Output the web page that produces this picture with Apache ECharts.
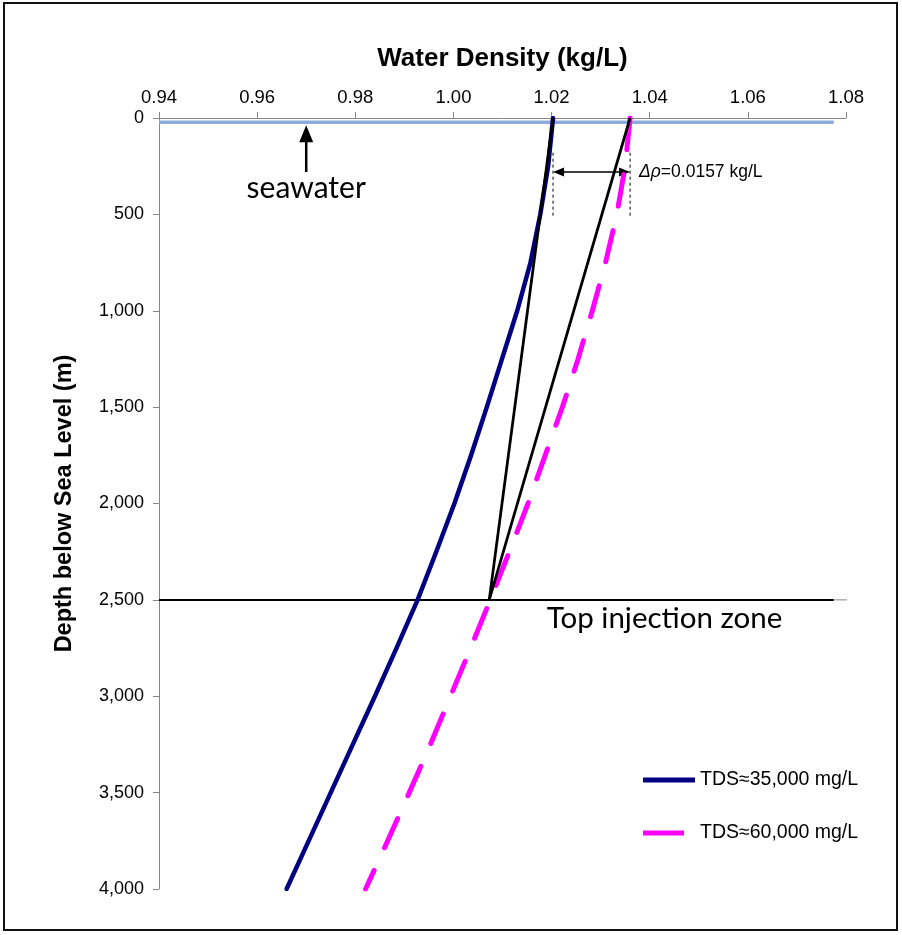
<!DOCTYPE html>
<html>
<head>
<meta charset="utf-8">
<script src="https://cdn.jsdelivr.net/npm/echarts@6/dist/echarts.min.js"></script>
<style>
  html, body { margin: 0; padding: 0; background: #ffffff; }
  #chart { width: 902px; height: 935px; }
</style>
</head>
<body>
<div id="chart"></div>
<script>
// Depth (m below sea level) at which each density value is given
const depthM = [0, 250, 500, 750, 1000, 1250, 1500, 1750, 2000, 2250, 2500, 2750, 3000, 3250, 3500, 3750, 4000];
// Water density (kg/L) for the two salinities
const densityTds35 = [1.0203, 1.0193, 1.0177, 1.0157, 1.0130, 1.0099, 1.0068, 1.0036, 1.0002, 0.9965, 0.9927, 0.9884, 0.9840, 0.9795, 0.9750, 0.9705, 0.9660];
const densityTds60 = [1.0360, 1.0350, 1.0333, 1.0310, 1.0283, 1.0254, 1.0222, 1.0187, 1.0152, 1.0114, 1.0075, 1.0035, 0.9994, 0.9953, 0.9910, 0.9866, 0.9821];
const seriesNames = ['TDS\u224835,000 mg/L', 'TDS\u224860,000 mg/L'];

// Sea surface line and top of the injection zone
const seawaterRange = [0.94, 1.0775];
const seawaterDepth = 22;
const injectionTopDepth = 2500;
const injectionRange = [0.94, 1.0775];
const injectionTickEnd = 1.081;

// Straight averaged-density lines from the surface down to the injection zone
const surfaceDensity35 = 1.0203;
const deltaRho = 0.0157;
const surfaceDensity60 = 1.0360;
const convergeDensity = 1.0073;

// Annotation anchors
const deltaArrowDepth = 280;
const refLineDepths = [180, 510];
const seawaterArrowDensity = 0.97;
const injectionLabelDensity = 1.019;

const AX = '#868686';
const SANS = '"Liberation Sans", Arial, sans-serif';
const CAL = 'Lato, "Open Sans", sans-serif';

// Legend swatches: a solid bar, and a single dash for the dashed series
const ICON_SOLID = 'path://M0,0H52V5H0Z';
const ICON_DASH = 'path://M0,0H41V5H0ZM52,0L52,5';

const chart = echarts.init(document.getElementById('chart'), null, { renderer: 'canvas' });

const pair = (xs, ys) => xs.map((x, i) => [x, ys[i]]);
const plain = (data, color, width, extra) => Object.assign({
  type: 'line', data, symbol: 'none', silent: true,
  lineStyle: { color, width },
  itemStyle: { color }, z: 3
}, extra || {});

chart.setOption({
  animation: false,
  backgroundColor: '#ffffff',
  grid: { left: 159, right: 56, top: 118, bottom: 46, containLabel: false },
  xAxis: {
    type: 'value', position: 'top',
    min: 0.94, max: 1.08, interval: 0.02,
    name: 'Water Density (kg/L)', nameLocation: 'middle', nameGap: 46,
    nameTextStyle: { fontFamily: SANS, fontSize: 26, fontWeight: 'bold', color: '#000' },
    axisLine: { show: true, lineStyle: { color: AX, width: 1 } },
    axisTick: { show: true, inside: false, length: 6, lineStyle: { color: AX } },
    axisLabel: { fontFamily: SANS, fontSize: 18.5, color: '#000', margin: 11,
      formatter: v => v.toFixed(2) },
    splitLine: { show: false }
  },
  yAxis: {
    type: 'value', inverse: true,
    min: 0, max: 4000, interval: 500,
    name: 'Depth below Sea Level (m)', nameLocation: 'middle', nameGap: 82, nameRotate: 90,
    nameTextStyle: { fontFamily: SANS, fontSize: 23.5, fontWeight: 'bold', color: '#000' },
    axisLine: { show: true, lineStyle: { color: AX, width: 1 } },
    axisTick: { show: true, inside: false, length: 6, lineStyle: { color: AX } },
    axisLabel: { fontFamily: SANS, fontSize: 18, color: '#000', margin: 15,
      formatter: v => v.toLocaleString('en-US') },
    splitLine: { show: false }
  },
  legend: {
    data: [
      { name: seriesNames[0], icon: ICON_SOLID },
      { name: seriesNames[1], icon: ICON_DASH }
    ],
    orient: 'vertical', left: 638, top: 765,
    itemWidth: 52, itemHeight: 5, itemGap: 33,
    textStyle: { fontFamily: SANS, fontSize: 19.5, color: '#000' },
    selectedMode: false
  },
  series: [
    plain([[seawaterRange[0], seawaterDepth], [seawaterRange[1], seawaterDepth]], '#8eaadb', 3.5, { z: 2 }),
    plain([[injectionRange[1], injectionTopDepth], [injectionTickEnd, injectionTopDepth]], AX, 1, { clip: false, z: 2 }),
    plain([[injectionRange[0], injectionTopDepth], [injectionRange[1], injectionTopDepth]], '#000', 2, { z: 2 }),
    plain([[surfaceDensity35, refLineDepths[0]], [surfaceDensity35, refLineDepths[1]]], '#000', 1,
      { lineStyle: { color: '#000', width: 1, type: [3, 3] } }),
    plain([[surfaceDensity60, refLineDepths[0]], [surfaceDensity60, refLineDepths[1]]], '#000', 1,
      { lineStyle: { color: '#000', width: 1, type: [3, 3] } }),
    {
      name: seriesNames[0], type: 'line', symbol: 'none', silent: true, z: 4,
      data: pair(densityTds35, depthM),
      lineStyle: { color: '#000080', width: 4.5, cap: 'round', join: 'round' },
      itemStyle: { color: '#000080' }
    },
    {
      name: seriesNames[1], type: 'line', symbol: 'none', silent: true, z: 4,
      data: pair(densityTds60, depthM),
      lineStyle: { color: '#ff00ff', width: 5, type: [32, 25], cap: 'round', join: 'round' },
      itemStyle: { color: '#ff00ff' }
    },
    plain([[surfaceDensity35, 0], [convergeDensity, injectionTopDepth]], '#000', 2.75, { z: 5 }),
    plain([[surfaceDensity60, 0], [convergeDensity, injectionTopDepth]], '#000', 2.75, { z: 5 })
  ]
});

// Annotations placed from data coordinates
const px = (x, y) => chart.convertToPixel({ xAxisIndex: 0, yAxisIndex: 0 }, [x, y]);

const dL = px(surfaceDensity35, deltaArrowDepth);
const dR = px(surfaceDensity35 + deltaRho, deltaArrowDepth);
const swTip = px(seawaterArrowDensity, seawaterDepth);
const swBase = px(seawaterArrowDensity, deltaArrowDepth);
const inj = px(injectionLabelDensity, injectionTopDepth);

const head = 11, halfW = 4.5;
const tipY = swTip[1] + 3;

chart.setOption({
  graphic: [
    { type: 'rect', silent: true, shape: { x: 4, y: 3, width: 893, height: 927 },
      style: { fill: 'none', stroke: '#111', lineWidth: 2 } },
    // double-headed density difference arrow
    { type: 'line', silent: true, shape: { x1: dL[0] + head - 1, y1: dL[1], x2: dR[0] - head + 1, y2: dR[1] },
      style: { stroke: '#000', lineWidth: 1.5 } },
    { type: 'polygon', silent: true,
      shape: { points: [[dL[0], dL[1]], [dL[0] + head, dL[1] - halfW], [dL[0] + head, dL[1] + halfW]] },
      style: { fill: '#000' } },
    { type: 'polygon', silent: true,
      shape: { points: [[dR[0], dR[1]], [dR[0] - head, dR[1] - halfW], [dR[0] - head, dR[1] + halfW]] },
      style: { fill: '#000' } },
    { type: 'text', silent: true, x: dR[0] + 9, y: dR[1],
      style: { text: '{i|\u0394\u03c1}=' + deltaRho.toFixed(4) + ' kg/L', fill: '#000',
        font: '17.5px ' + SANS, verticalAlign: 'middle', align: 'left',
        rich: { i: { fontStyle: 'italic', fontSize: 17.5, fontFamily: SANS } } } },
    // seawater arrow
    { type: 'line', silent: true, shape: { x1: swBase[0], y1: swBase[1], x2: swTip[0], y2: tipY + 14 },
      style: { stroke: '#000', lineWidth: 2.5 } },
    { type: 'polygon', silent: true,
      shape: { points: [[swTip[0], tipY], [swTip[0] - 7, tipY + 17], [swTip[0] + 7, tipY + 17]] },
      style: { fill: '#000' } },
    { type: 'text', silent: true, x: swBase[0], y: swBase[1] + 16,
      style: { text: 'seawater', fill: '#000', font: '30px ' + CAL, align: 'center', verticalAlign: 'middle' } },
    { type: 'text', silent: true, x: inj[0], y: inj[1] + 19,
      style: { text: 'Top injection zone', fill: '#000', font: '29.5px ' + CAL, align: 'left', verticalAlign: 'middle' } }
  ]
});
</script>
</body>
</html>
